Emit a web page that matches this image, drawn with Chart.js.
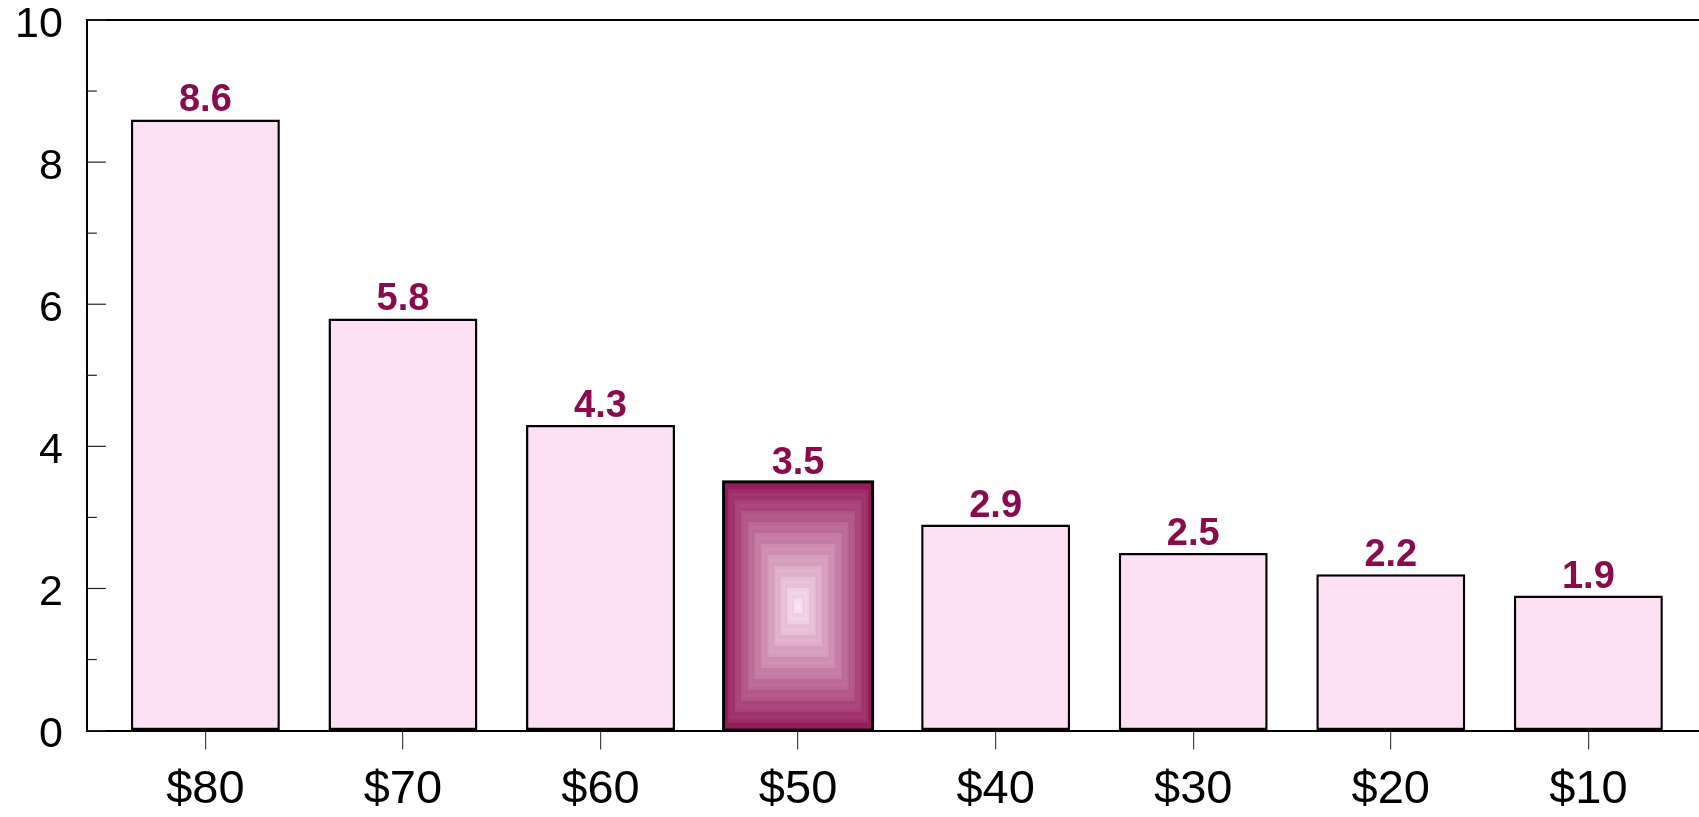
<!DOCTYPE html>
<html lang="en">
<head>
  <meta charset="UTF-8" />
  <title>Bar chart</title>
  <script src="https://cdn.jsdelivr.net/npm/chart.js"></script>
  <style>
    html, body { margin: 0; padding: 0; background: #fff; overflow: hidden; }
    #wrap { width: 1699px; height: 817px; }
  </style>
</head>
<body>
  <div id="wrap"><canvas id="grafico"></canvas></div>

  <script>
    const categorias = ['$80', '$70', '$60', '$50', '$40', '$30', '$20', '$10'];
    const valores = [8.6, 5.8, 4.3, 3.5, 2.9, 2.5, 2.2, 1.9];
    const destacado = 3; // la barra de $50
    const yTicks = [0, 2, 4, 6, 8, 10];

    const FUENTE = "'Liberation Sans', Arial, sans-serif";
    const ROSA = '#fde0f4';
    const GRANATE = '#8a0a4e';

    function mezcla(a, b, t) {
      const pa = [parseInt(a.slice(1, 3), 16), parseInt(a.slice(3, 5), 16), parseInt(a.slice(5, 7), 16)];
      const pb = [parseInt(b.slice(1, 3), 16), parseInt(b.slice(3, 5), 16), parseInt(b.slice(5, 7), 16)];
      const c = pa.map((v, i) => Math.round(v + (pb[i] - v) * t));
      return `rgb(${c[0]},${c[1]},${c[2]})`;
    }

    // relleno "de caja" para la barra destacada + etiquetas + marco superior + ticks internos del eje y
    const extras = {
      id: 'extras',
      afterDatasetsDraw(chart) {
        const ctx = chart.ctx;
        const meta = chart.getDatasetMeta(0);
        const el = meta.data[destacado];
        const p = el.getProps(['x', 'y', 'base', 'width'], true);
        const left = p.x - p.width / 2, right = p.x + p.width / 2;
        const top = p.y, bottom = p.base;
        const w = right - left, h = bottom - top;
        const pasos = 34;
        ctx.save();
        for (let k = 0; k < pasos; k++) {
          const t = k / (pasos - 1);
          const dx = (w / 2) * k / pasos, dy = (h / 2) * k / pasos;
          const banda = (k % 3 === 1) ? 0.05 : 0;
          ctx.fillStyle = mezcla('#8c0d4f', '#fbe4f4', Math.min(1, 0.08 + 0.92 * Math.pow(t, 0.9) - banda));
          ctx.fillRect(left + dx, top + dy, w - 2 * dx, h - 2 * dy);
        }
        ctx.lineWidth = 3;
        ctx.strokeStyle = '#000';
        ctx.strokeRect(left, top, w, h);

        // etiquetas de valor
        ctx.fillStyle = GRANATE;
        ctx.font = `bold 38px ${FUENTE}`;
        ctx.textAlign = 'center';
        ctx.textBaseline = 'alphabetic';
        meta.data.forEach((bar, i) => {
          ctx.fillText(valores[i].toFixed(1), bar.x, bar.y - 8);
        });

        // marco superior
        const a = chart.chartArea;
        ctx.strokeStyle = '#000';
        ctx.lineWidth = 2;
        ctx.beginPath();
        ctx.moveTo(a.left, a.top);
        ctx.lineTo(a.right, a.top);
        ctx.stroke();

        // ticks hacia dentro en el eje y
        const ys = chart.scales.y;
        ctx.lineWidth = 1.2;
        ctx.strokeStyle = '#222';
        ys.ticks.forEach(t => {
          const py = ys.getPixelForValue(t.value);
          const largo = yTicks.includes(t.value) ? 19 : 10;
          ctx.beginPath();
          ctx.moveTo(a.left, py);
          ctx.lineTo(a.left + largo, py);
          ctx.stroke();
        });
        ctx.restore();
      }
    };

    new Chart(document.getElementById('grafico').getContext('2d'), {
      type: 'bar',
      data: {
        datasets: [{
          data: valores.map((v, i) => ({ x: i, y: v })),
          backgroundColor: valores.map((v, i) => i === destacado ? '#b04a80' : ROSA),
          borderColor: '#000',
          borderWidth: 2.5,
          borderSkipped: false,
          categoryPercentage: 1,
          barPercentage: 0.754
        }]
      },
      options: {
        responsive: true,
        maintainAspectRatio: false,
        animation: false,
        layout: { padding: { left: 15, top: 0, right: 0, bottom: -13 } },
        plugins: { legend: { display: false }, tooltip: { enabled: false } },
        scales: {
          x: {
            type: 'linear',
            offset: false,
            min: -0.6,
            max: 7.56,
            grid: { offset: false, drawOnChartArea: false, drawTicks: true, tickLength: 19, color: '#444', lineWidth: 1.2 },
            border: { display: true, color: '#000', width: 2 },
            ticks: {
              stepSize: 1,
              includeBounds: false,
              autoSkip: false,
              maxRotation: 0,
              padding: 12,
              color: '#000',
              font: { family: FUENTE, size: 47 },
              callback: v => Number.isInteger(v) ? (categorias[v] || '') : ''
            }
          },
          y: {
            min: 0,
            max: 10,
            grid: { drawOnChartArea: false, drawTicks: true, tickLength: 24, tickColor: 'rgba(0,0,0,0)' },
            border: { display: true, color: '#000', width: 2 },
            ticks: {
              stepSize: 1,
              padding: 0,
              labelOffset: 5,
              color: '#000',
              font: { family: FUENTE, size: 43, lineHeight: 0.93 },
              callback: v => yTicks.includes(v) ? String(v) : ''
            }
          }
        }
      },
      plugins: [extras]
    });
  </script>
</body>
</html>
